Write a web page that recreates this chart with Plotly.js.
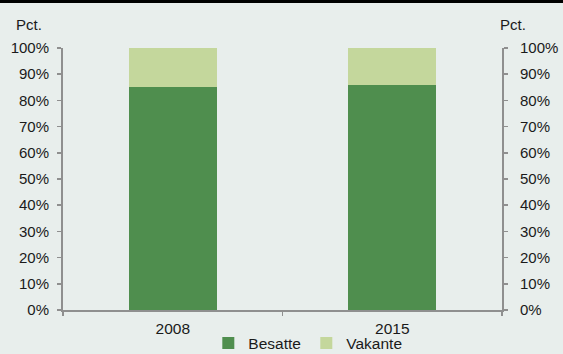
<!DOCTYPE html>
<html>
<head>
<meta charset="utf-8">
<script src="https://cdn.plot.ly/plotly-3.0.1.min.js"></script>
<style>
html,body{margin:0;padding:0;background:#E8EEEC;}
#wrap{position:relative;width:563px;height:354px;}
#topbar{position:absolute;left:0;top:0;width:563px;height:3px;background:#000;}
#chart{position:absolute;left:0;top:0;width:563px;height:354px;}
</style>
</head>
<body>
<div id="wrap"><div id="chart"></div><div id="topbar"></div></div>
<script>
const categories = ["2008", "2015"];
const besatte = [0.85, 0.86];
const vakante = [0.15, 0.14];
const seriesNames = ["Besatte", "Vakante"];
const yTickVals = [0, 0.1, 0.2, 0.3, 0.4, 0.5, 0.6, 0.7, 0.8, 0.9, 1.0];
const yTickText = ["0%", "10%", "20%", "30%", "40%", "50%", "60%", "70%", "80%", "90%", "100%"];

const fam = "Liberation Sans, Arial, sans-serif";
const font = {family: fam, size: 15, color: "#1a1a1a"};
const fontX = {family: fam, size: 15.5, color: "#1a1a1a"};
const axisColor = "#8f8f8f";

const traces = [
  {type: "bar", name: seriesNames[0], x: categories, y: besatte, marker: {color: "#4F8E4E"}, width: 0.4, hoverinfo: "skip"},
  {type: "bar", name: seriesNames[1], x: categories, y: vakante, marker: {color: "#C4D79C"}, width: 0.4, hoverinfo: "skip"},
  {type: "scatter", mode: "markers", x: categories, y: [0, 0], yaxis: "y2", showlegend: false,
   marker: {opacity: 0, size: 1}, hoverinfo: "skip"}
];

const yBase = {
  range: [0, 1], tickvals: yTickVals, ticktext: yTickText, ticks: "outside", ticklen: 4,
  tickcolor: axisColor, tickwidth: 1.5, showline: true, linecolor: axisColor, linewidth: 2,
  showgrid: false, zeroline: false, tickfont: font, fixedrange: true, ticklabelstandoff: 5
};

const layout = {
  width: 563, height: 354,
  margin: {l: 63, r: 61, t: 48, b: 44, pad: 0, autoexpand: false},
  paper_bgcolor: "#E8EEEC", plot_bgcolor: "#E8EEEC",
  barmode: "stack",
  font: font,
  showlegend: true,
  legend: {orientation: "h", x: 0.331, xanchor: "left", y: -0.128, yanchor: "middle",
           font: fontX, bgcolor: "rgba(0,0,0,0)",
           entrywidth: 53, entrywidthmode: "pixels", traceorder: "normal", tracegroupgap: 0,
           itemwidth: 30},
  xaxis: {type: "category", tickson: "boundaries", ticks: "outside", ticklen: 4, tickcolor: axisColor,
          tickwidth: 1.5, showline: true, linecolor: axisColor, linewidth: 2, showgrid: false,
          tickfont: fontX, fixedrange: true, ticklabelstandoff: 3},
  yaxis: Object.assign({}, yBase, {side: "left"}),
  yaxis2: Object.assign({}, yBase, {side: "right", overlaying: "y", anchor: "x", ticklabelstandoff: 9}),
  annotations: [
    {text: "Pct.", xref: "paper", yref: "paper", x: -0.112, y: 1.088, xanchor: "left", yanchor: "middle", showarrow: false, font: font},
    {text: "Pct.", xref: "paper", yref: "paper", x: 0.991, y: 1.088, xanchor: "left", yanchor: "middle", showarrow: false, font: font}
  ]
};

Plotly.newPlot("chart", traces, layout, {displayModeBar: false, staticPlot: true});
</script>
</body>
</html>
